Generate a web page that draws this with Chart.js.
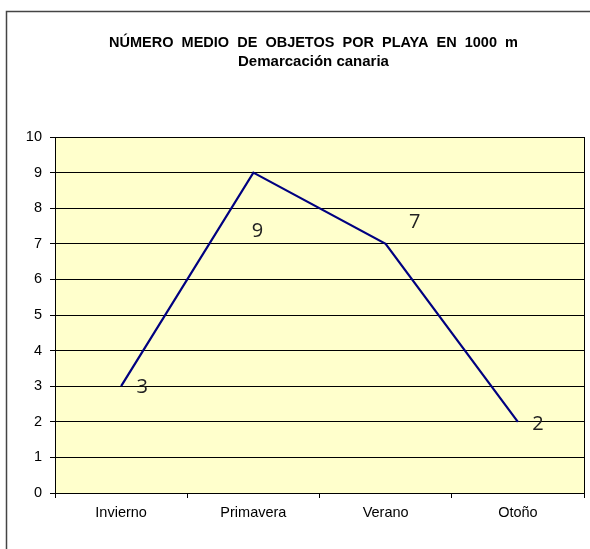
<!DOCTYPE html>
<html>
<head>
<meta charset="utf-8">
<script src="https://cdn.jsdelivr.net/npm/chart.js@4"></script>
<style>
  html, body { margin: 0; padding: 0; background: #fff; }
  #wrap { width: 590px; height: 549px; position: relative; }
</style>
</head>
<body>
<div id="wrap"><canvas id="chart" width="590" height="549"></canvas></div>
<script>
// Datos
const estaciones = ['Invierno', 'Primavera', 'Verano', 'Otoño'];
const objetosMedios = [3, 9, 7, 2];
const ticksY = [0, 1, 2, 3, 4, 5, 6, 7, 8, 9, 10];
const titulo = 'NÚMERO  MEDIO  DE  OBJETOS  POR  PLAYA  EN  1000  m';
const subtitulo = 'Demarcación canaria';

const fuente = '"Liberation Sans", Arial, sans-serif';

// Fondo blanco, marco exterior, títulos y fondo amarillo del área de trazado
const fondoPlugin = {
    id: 'fondo',
    beforeDraw(chart) {
        const { ctx, chartArea: a } = chart;
        ctx.save();
        ctx.fillStyle = '#ffffff';
        ctx.fillRect(0, 0, chart.width, chart.height);
        ctx.strokeStyle = '#444';
        ctx.lineWidth = 1.5;
        ctx.strokeRect(6.5, 11.5, chart.width + 20, chart.height + 20);

        // títulos centrados un poco a la izquierda del área de trazado, como en Excel
        const cx = (a.left + a.right) / 2 - 6;
        ctx.fillStyle = '#000';
        ctx.textAlign = 'center';
        ctx.textBaseline = 'middle';
        ctx.font = 'bold 14.5px ' + fuente;
        ctx.fillText(titulo, cx, 43);
        ctx.font = 'bold 15px ' + fuente;
        ctx.fillText(subtitulo, cx, 62);

        ctx.fillStyle = '#FFFFCC';
        ctx.fillRect(a.left, a.top, a.right - a.left, a.bottom - a.top);
        ctx.restore();
    },
    beforeDatasetsDraw(chart) {
        const { ctx, chartArea: a } = chart;
        ctx.save();
        ctx.strokeStyle = '#000';
        ctx.lineWidth = 1;
        ctx.strokeRect(Math.round(a.left) + 0.5, Math.round(a.top) + 0.5,
            Math.round(a.right - a.left), Math.round(a.bottom - a.top));
        ctx.restore();
    }
};

// Etiquetas de datos colocadas a mano como en el original
const etiquetasPlugin = {
    id: 'etiquetas',
    afterDatasetsDraw(chart, args, opts) {
        const { ctx } = chart;
        const meta = chart.getDatasetMeta(0);
        ctx.save();
        ctx.font = '20px "Open Sans", "Noto Sans", sans-serif';
        ctx.fillStyle = '#222';
        ctx.textAlign = 'center';
        ctx.textBaseline = 'middle';
        meta.data.forEach((pt, i) => {
            const off = opts.offsets[i] || [0, 0];
            ctx.fillText(String(chart.data.datasets[0].data[i]), pt.x + off[0], pt.y + off[1]);
        });
        ctx.restore();
    }
};

new Chart(document.getElementById('chart'), {
    type: 'line',
    data: {
        labels: estaciones,
        datasets: [{
            data: objetosMedios,
            borderColor: '#000080',
            borderWidth: 2.2,
            pointRadius: 0,
            tension: 0,
            fill: false
        }]
    },
    options: {
        responsive: false,
        animation: false,
        layout: { padding: { left: 0, right: 6, top: 137, bottom: 0 } },
        plugins: {
            legend: { display: false },
            tooltip: { enabled: false },
            title: { display: false },
            etiquetas: {
                offsets: [[21, 1], [4, 59], [29, -22], [20, 2]]
            }
        },
        scales: {
            x: {
                offset: true,
                grid: {
                    offset: true,
                    drawOnChartArea: false,
                    drawTicks: true,
                    tickLength: 5,
                    color: '#000'
                },
                border: { color: '#000' },
                ticks: {
                    color: '#000',
                    padding: 6,
                    font: { family: fuente, size: 14.5 }
                },
                afterFit(scale) { scale.height = 56; }
            },
            y: {
                min: 0,
                max: 10,
                afterBuildTicks(scale) { scale.ticks = ticksY.map(v => ({ value: v })); },
                grid: {
                    color: '#000',
                    lineWidth: 1,
                    tickLength: 5
                },
                border: { color: '#000' },
                ticks: {
                    color: '#000',
                    padding: 8,
                    font: { family: fuente, size: 14.5 }
                },
                afterFit(scale) { scale.width = 55; }
            }
        }
    },
    plugins: [fondoPlugin, etiquetasPlugin]
});
</script>
</body>
</html>
